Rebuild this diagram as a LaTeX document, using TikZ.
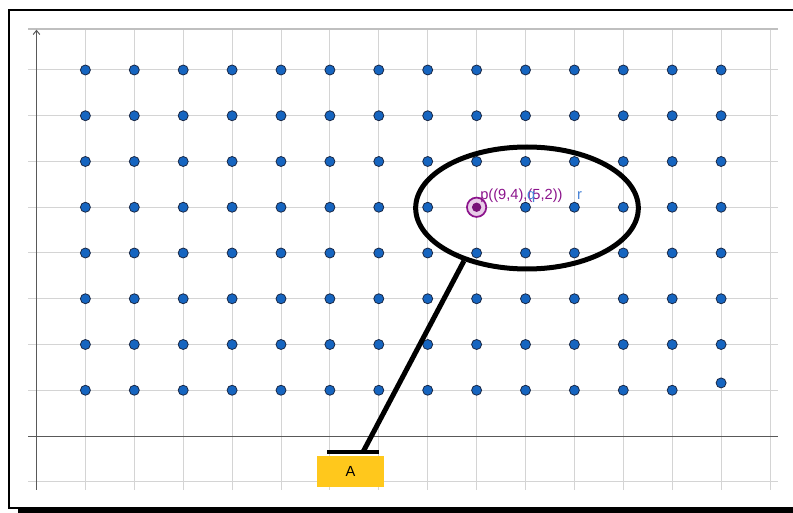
\documentclass[tikz,border=0pt]{standalone}
\usepackage{fontspec}
\setmainfont{Liberation Sans}
\usetikzlibrary{
    shapes.geometric,
    arrows.meta
}
\definecolor{azulpunto}{RGB}{22,101,192}
\definecolor{bordepunto}{RGB}{25,40,70}
\definecolor{morado}{RGB}{140,20,140}
\definecolor{moradoclaro}{RGB}{232,205,232}
\definecolor{azuletq}{RGB}{70,130,215}
\definecolor{amarillo}{RGB}{255,200,28}
\tikzset{
    >={Straight Barb[length=3pt,width=5pt]},
    rejilla/.style={draw=black!17, line width=0.75pt},
    eje/.style={draw=black!65, line width=0.75pt},
    punto/.style={
        circle,
        draw=bordepunto,
        line width=0.6pt,
        fill=azulpunto,
        inner sep=0pt,
        minimum size=7.5pt
    },
    etq/.style={
        font=\fontsize{11}{13}\selectfont,
        inner sep=0pt
    },
    grueso/.style={line width=3.75pt}
}

\begin{document}
\begin{tikzpicture}[
    x=0.75pt,
    y=-0.75pt
]
    \useasboundingbox (0,0) rectangle (793,513);

    % Marco
    \fill[black] (18,508) rectangle (800,513);
    \draw[line width=1.5pt, fill=white] (9,10) rectangle (800,507.5);

    % Rejilla y ejes
    \begin{scope}[shift={(36.5,436)}, x=36.675pt, y=34.3125pt]
        \foreach \i in {1,...,15}
            \draw[rejilla] (\i,-1.18) -- (\i,8.9);
        \foreach \j in {-1,1,2,...,8}
            \draw[rejilla] (-0.17,\j) -- (15.16,\j);
        \draw[rejilla, draw=black!25, line width=1.1pt] (-0.17,8.9) -- (15.16,8.9);

        \draw[eje] (-0.17,0) -- (15.16,0);
        \draw[eje, ->] (0,-1.18) -- (0,8.88);

        % Puntos
        \foreach \i in {1,...,14}
            \foreach \j in {1,...,8} {
                \pgfmathtruncatemacro{\saltar}{((\i==14 && \j==1) || (\i==9 && \j==5)) ? 1 : 0}
                \ifnum\saltar=0
                    \node[punto] (d-\i-\j) at (\i,\j) {};
                \fi
            };
        \node[punto] (d-14-1) at (14,1.16) {};

        \node[circle, draw=morado, line width=1.3pt, fill=moradoclaro,
              inner sep=0pt, minimum size=14.5pt] (p) at (9,5) {};
        \node[circle, fill=morado!85!black, inner sep=0pt,
              minimum size=7pt] (p-c) at (p) {};

        % Etiquetas
        \node[etq, text=morado, anchor=base west] (lp) at (9.07,5.18) {p((9,4),(5,2))};
        \node[etq, text=azuletq, anchor=base west] (lq) at (10.03,5.18) {q};
        \node[etq, text=azuletq, anchor=base west] (lr) at (11.05,5.18) {r};
    \end{scope}

    % Lupa
    \node[ellipse, draw, grueso, inner sep=0pt,
          minimum width=167pt, minimum height=91.5pt] (lente) at (527,208) {};
    \coordinate (base) at (363,452);
    \coordinate (barra-i) at (327,452);
    \coordinate (barra-d) at (379,452);
    \draw[grueso] (lente.220) -- (base);
    \draw[line width=3pt] (barra-i) -- (barra-d);

    \node[fill=amarillo, minimum width=50.25pt, minimum height=23.25pt,
          inner sep=0pt, etq] (A) at (350.5,471.5) {A};

\end{tikzpicture}
\end{document}
